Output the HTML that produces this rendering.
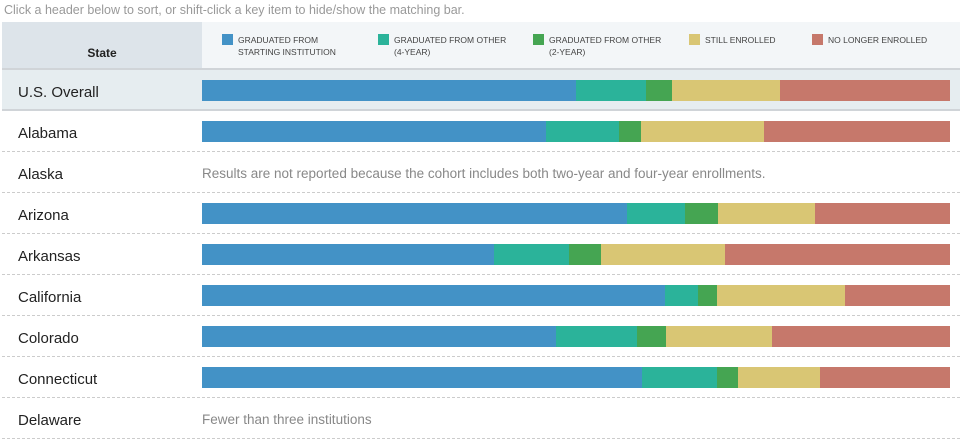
<!DOCTYPE html>
<html><head><meta charset="utf-8"><style>
body{margin:0;width:968px;height:439px;background:#fff;font-family:"Liberation Sans",sans-serif;overflow:hidden;position:relative}
.note{position:absolute;left:4px;top:3px;font-size:12.5px;color:#999}
.hdr{position:absolute;left:2px;top:22px;width:958px;height:46px;background:#f3f6f8;border-bottom:2px solid #d0d4d8}
.hstate{position:absolute;left:0;top:0;width:200px;height:46px;background:#dde4ea;font-weight:bold;font-size:12px;color:#222;text-align:center;line-height:62px}
.key{position:absolute;top:12px;font-size:8.5px;color:#444;line-height:12px;cursor:pointer}
.key i{position:absolute;left:-16px;top:0;width:11px;height:11px}
.row{position:absolute;left:2px;width:958px;height:40px;border-bottom:1px dashed #ccc}
.row .lbl{position:absolute;left:16px;top:3px;line-height:40px;font-size:15px;color:#222}
.row .msg{position:absolute;left:200px;top:2px;line-height:40px;font-size:13.5px;color:#888}
.bar{position:absolute;left:200px;top:10px;width:748px;height:21px;display:flex}
</style></head><body>
<div class="note">Click a header below to sort, or shift-click a key item to hide/show the matching bar.</div>
<div class="hdr">
<div class="hstate">State</div>
<div class="key" style="left:236px"><i style="background:#4392c6"></i>GRADUATED FROM<br>STARTING INSTITUTION</div>
<div class="key" style="left:392px"><i style="background:#2bb39a"></i>GRADUATED FROM OTHER<br>(4-YEAR)</div>
<div class="key" style="left:547px"><i style="background:#45a552"></i>GRADUATED FROM OTHER<br>(2-YEAR)</div>
<div class="key" style="left:703px"><i style="background:#d9c674"></i>STILL ENROLLED</div>
<div class="key" style="left:826px"><i style="background:#c6786b"></i>NO LONGER ENROLLED</div>
</div>
<div id="rows"></div>
<script>
const states=["U.S. Overall","Alabama","Alaska","Arizona","Arkansas","California","Colorado","Connecticut","Delaware"];
const gradStart=[50.0,46.0,null,56.8,39.0,61.8,47.3,58.8,null];
const gradOther4=[9.4,9.8,null,7.8,10.0,4.5,10.8,10.0,null];
const gradOther2=[3.5,2.9,null,4.4,4.3,2.5,3.9,2.8,null];
const stillEnrolled=[14.4,16.4,null,13.0,16.6,17.1,14.2,11.0,null];
const noLonger=[22.7,24.9,null,18.0,30.1,14.0,23.8,17.4,null];
const messages={2:"Results are not reported because the cohort includes both two-year and four-year enrollments.",8:"Fewer than three institutions"};
const colors=["#4392c6","#2bb39a","#45a552","#d9c674","#c6786b"];
const segNames=["grad-start","grad-other-4yr","grad-other-2yr","still-enrolled","no-longer-enrolled"];
const W=748;
const root=document.getElementById('rows');
states.forEach((s,i)=>{
  const r=document.createElement('div');r.className='row';
  
  
  r.style.top=(70+i*41)+'px';
  if(i===0){r.style.background='#e6edf0';r.style.borderBottom='2px solid #d0d4d8';r.style.height='39px';}
  const l=document.createElement('div');l.className='lbl';l.textContent=s;
  
  
  r.appendChild(l);
  if(gradStart[i]==null){
    const m=document.createElement('div');m.className='msg';m.textContent=messages[i];
    
    
    r.appendChild(m);
  } else {
    const b=document.createElement('div');b.className='bar';
    
    
    const vals=[gradStart[i],gradOther4[i],gradOther2[i],stillEnrolled[i],noLonger[i]];
    const tot=vals.reduce((a,c)=>a+c,0);
    vals.forEach((v,k)=>{
      const sg=document.createElement('div');
      sg.style.width=(v/tot*W)+'px';sg.style.background=colors[k];sg.style.height='100%';
      
      
      b.appendChild(sg);
    });
    r.appendChild(b);
  }
  root.appendChild(r);
});
</script>
</body></html>
